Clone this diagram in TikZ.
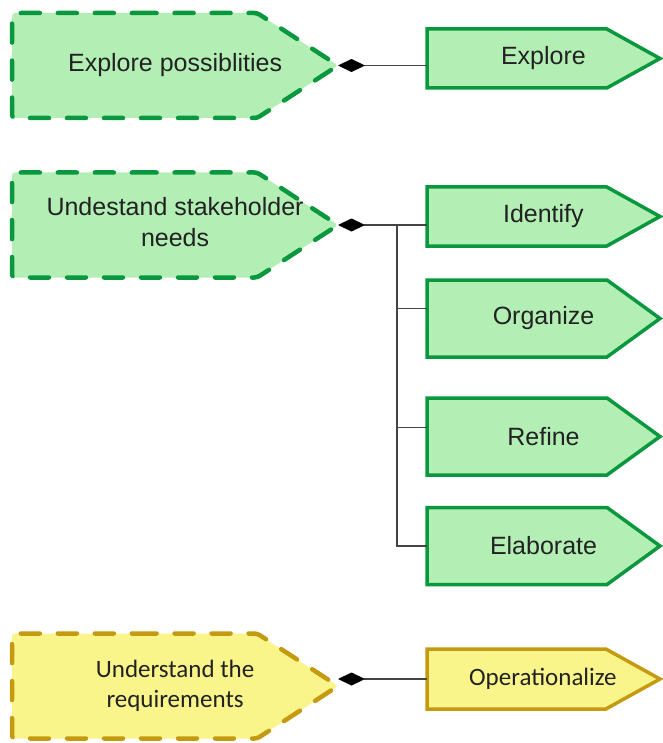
\documentclass[tikz,border=0pt]{standalone}
\usepackage{fontspec}
\setmainfont{Liberation Sans}
\newfontfamily\calfont{Carlito}
\usetikzlibrary{arrows.meta,shapes.symbols}
\definecolor{grn}{HTML}{0A983E}
\definecolor{grnfill}{HTML}{B3EFB5}
\definecolor{ylw}{HTML}{C49A10}
\definecolor{ylwfill}{HTML}{FAF58A}
\definecolor{ink}{HTML}{222222}
\definecolor{wire}{HTML}{444444}

\begin{document}
\begin{tikzpicture}[x=1pt, y=-1pt, >=Latex,
  sg/.style={shape=signal, signal to=east, inner sep=0pt, outer sep=0pt, anchor=west, text=ink, font=\fontsize{25}{31}\selectfont},
  pad/.style={execute at begin node={\hspace*{#1}\hbox to 0pt\bgroup\hss}, execute at end node={\hss\egroup\hspace*{-#1}}},
  goal/.style={sg, pad=40.5pt, draw=grn, fill=grnfill, line width=4.5pt, dash pattern=on 19pt off 18pt, line cap=round,
    rounded corners=3pt, minimum width=326pt, minimum height=105pt, signal pointer angle=66},
  act/.style={sg, pad=26.5pt, draw=grn, fill=grnfill, line width=3.5pt, minimum width=233pt, minimum height=59pt, signal pointer angle=58},
  actbig/.style={act, minimum height=77pt, signal pointer angle=72},
  ygoal/.style={goal, draw=ylw, fill=ylwfill, font=\calfont\fontsize{25}{30}\selectfont},
  yact/.style={act, draw=ylw, fill=ylwfill, minimum height=60pt, font=\calfont\fontsize{25}{30}\selectfont},
  link/.style={draw=wire, line width=1.1pt},
  own/.style={link, -{Diamond[length=27pt, width=13pt, color=black]}}
]
\useasboundingbox (0,0) rectangle (662,743);
% explore
\node[goal] (xp)  at (12, 65.5)  {Explore possiblities};
\node[act]  (xpl) at (427, 58.5) {Explore};
\draw[own] (xp.east -| xpl.west) -- (xp.east);
% stakeholder needs
\node[goal] (sn)  at (12, 225)   {\begin{tabular}{@{}c@{}}Undestand stakeholder\\needs\end{tabular}};
\node[act]    (idf) at (427, 216.5) {Identify};
\node[actbig] (org) at (427, 318.5) {Organize};
\node[actbig] (ref) at (427, 436.5) {Refine};
\node[actbig] (ela) at (427, 546)   {Elaborate};
\coordinate (bar) at (397, 224);
\draw[own] (sn.east -| idf.west) -- (sn.east);
\draw[link] (bar) |- (ela.west);
\draw[link] ([yshift=10pt]org.west -| bar) -- ([yshift=10pt]org.west);
\draw[link] ([yshift=9pt]ref.west -| bar) -- ([yshift=9pt]ref.west);
% requirements
\node[ygoal] (rq)  at (12, 686)  {\begin{tabular}{@{}c@{}}Understand the\\requirements\end{tabular}};
\node[yact]  (opz) at (427, 679) {Operationalize};
\draw[own] (opz.west) -- (opz.west -| rq.east);
\end{tikzpicture}
\end{document}
